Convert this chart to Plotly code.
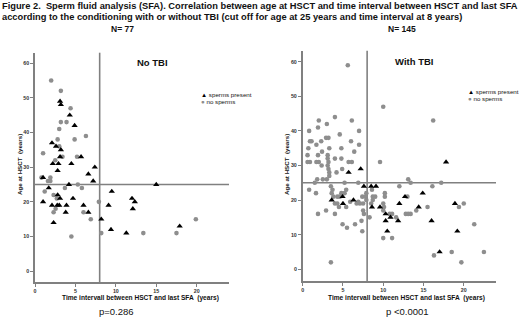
import plotly.graph_objects as go

W, H = 520, 317

# ---------------- data ----------------
# Left panel: No TBI  (x = time interval HSCT -> last SFA, y = age at HSCT)
noTBI_present_x = [3.1, 3.2, 4.3, 4.9, 2.1, 2.6, 3.2, 3.1, 5.7, 2.2, 2.9, 4.5, 7.4, 2.8, 6.6, 1.0, 7.2, 4.2,
                   1.7, 9.5, 2.8, 3.1, 4.7, 1.0, 2.1, 2.75, 3.0, 3.9, 6.0, 9.1, 3.8, 6.6, 2.3, 8.2, 9.4, 11.3,
                   12.0, 12.35, 12.1, 15.0, 17.9]
noTBI_present_y = [49, 48, 45, 42, 37, 36, 35, 33, 33, 31, 31, 31, 30, 29, 28, 27, 26, 25,
                   24, 23, 22, 21, 21, 20, 19, 19, 19, 19, 19, 19, 17, 17, 14, 15, 12, 11,
                   21, 20, 18, 25, 13]
noTBI_none_x = [2.0, 3.2, 4.4, 3.2, 3.9, 3.0, 6.3, 2.8, 4.9, 3.0, 1.0, 3.4, 5.2, 2.5, 0.8, 1.9, 1.6, 1.9,
                5.3, 1.2, 3.7, 5.8, 2.3, 2.7, 7.9, 2.55, 2.3, 6.0, 6.9, 8.2, 4.5, 13.4, 17.5, 19.9]
noTBI_none_y = [55, 52, 47, 43, 43, 41, 39, 38, 38, 36, 34, 33, 33, 32, 27, 27, 26, 26,
                25, 23, 24, 24, 22, 21, 20, 18, 17, 17, 15, 11, 10, 11, 11, 15]

# Right panel: With TBI
TBI_present_x = [5.7, 7.2, 3.6, 4.95, 5.0, 6.3, 7.6, 8.5, 9.1, 8.6, 9.6, 17.8, 12.7, 14.9, 12.0, 14.4,
                 18.9, 10.3, 10.9, 10.3, 11.85, 16.0, 10.5, 19.2, 17.0]
TBI_present_y = [28, 29, 20, 21, 19, 20, 24, 24, 24, 18, 18, 31, 21, 22, 19, 18,
                 19, 16, 15, 14, 14, 14, 11, 11, 5]
TBI_none_x = [5.6, 2.0, 4.0, 6.1, 3.0, 1.9, 0.8, 7.0, 4.6, 2.9, 3.2, 0.9, 1.1, 2.3, 6.0, 1.7, 7.0, 0.7,
              3.3, 4.8, 2.4, 6.4, 0.6, 1.9, 3.1, 3.1, 4.0, 4.8, 0.6, 0.9, 1.7, 2.0, 3.2, 5.7, 6.1, 2.35,
              3.1, 3.2, 4.9, 3.3, 4.2, 3.3, 1.8, 2.5, 3.0, 1.5, 5.2, 6.9, 0.8, 1.65, 3.5, 3.7, 5.4, 3.6,
              4.8, 5.2, 3.8, 4.3, 4.6, 5.9, 6.9, 4.0, 4.3, 4.5, 5.4, 6.7, 7.1, 7.5, 7.4, 7.8, 7.5, 4.0,
              2.9, 1.9, 4.95, 5.5, 6.5, 7.3, 7.4, 3.5,
              10.0, 16.2, 9.6, 13.1, 13.4, 17.2, 12.0, 16.1, 10.2, 10.2, 13.0, 10.1, 10.0, 15.5, 19.4,
              20.0, 10.8, 11.1, 12.8, 13.1, 13.4, 14.1, 11.6, 21.3, 10.0, 11.1, 18.5, 22.5, 16.3, 19.7,
              7.9, 8.6, 8.7, 8.5, 7.6, 8.3, 9.0, 10.0, 7.9, 8.7]
TBI_none_y = [59, 43, 44, 43, 42, 41, 40, 40, 39, 38, 38, 37, 37, 37, 37, 36, 36, 35,
              35, 35, 34, 34, 33, 33, 33, 32, 32, 32, 31, 31, 31, 31, 31, 31, 31, 30,
              30, 29, 29, 28, 28, 27, 26, 26, 26, 25, 25, 25, 23, 22, 24, 23, 23, 22,
              22, 22, 21, 21, 21, 19.5, 19.5, 19, 19, 18, 18, 19, 19, 19, 21, 21, 17, 16,
              17, 16, 13, 12, 13, 14, 11, 2,
              47, 43, 31, 26, 25, 25, 24, 24, 22, 21, 21, 18, 17, 18, 18,
              19, 16, 16, 16, 16, 16, 17, 15, 13, 9, 9, 5, 5, 4, 2,
              22, 23, 21, 19, 16, 15, 21, 19, 20, 20]

x_ticks = [0, 5, 10, 15, 20]
y_ticks = [0, 10, 20, 30, 40, 50, 60]
cut_interval = 8   # years
cut_age = 25       # years

# ---------------- style ----------------
FONT = "Liberation Sans, Arial, sans-serif"
AX = "#808080"
GREY_PT = "#8e8e8e"

fig = go.Figure()

def add_panel(xa, ya, px, py, nx, ny):
    fig.add_trace(go.Scatter(x=nx, y=ny, mode="markers", xaxis=xa, yaxis=ya, showlegend=False,
                             marker=dict(symbol="circle", size=4.6, color=GREY_PT, line=dict(width=0))))
    fig.add_trace(go.Scatter(x=px, y=py, mode="markers", xaxis=xa, yaxis=ya, showlegend=False,
                             marker=dict(symbol="triangle-up", size=5.5, color="black", line=dict(width=0))))

add_panel("x", "y", noTBI_present_x, noTBI_present_y, noTBI_none_x, noTBI_none_y)
add_panel("x2", "y2", TBI_present_x, TBI_present_y, TBI_none_x, TBI_none_y)

axis_common = dict(showgrid=False, zeroline=False, showline=True, linecolor=AX, linewidth=1.6,
                   ticks="outside", ticklen=3, tickwidth=1, tickcolor=AX,
                   tickfont=dict(family=FONT, size=5.3, color="#333333", weight="bold"))

fig.update_layout(
    width=W, height=H,
    margin=dict(l=0, r=0, t=0, b=0),
    paper_bgcolor="white", plot_bgcolor="white",
    showlegend=False,
    xaxis=dict(domain=[35 / W, 229 / W], range=[0, 24], tickvals=x_ticks, anchor="y", **axis_common),
    yaxis=dict(domain=[35 / H, 264.3 / H], range=[-3.1, 63], tickvals=y_ticks, anchor="x", **axis_common),
    xaxis2=dict(domain=[302.7 / W, 496 / W], range=[0, 24], tickvals=x_ticks, anchor="y2", **axis_common),
    yaxis2=dict(domain=[36 / H, 266.3 / H], range=[-3.4, 63.2], tickvals=y_ticks, anchor="x2", **axis_common),
)

# cut-off reference lines (drawn beneath the markers)
for xa, ya in [("x", "y"), ("x2", "y2")]:
    fig.add_shape(type="line", xref=xa, yref=ya + " domain", x0=cut_interval, x1=cut_interval, y0=0, y1=1,
                  line=dict(color=AX, width=1.6), layer="below")
    fig.add_shape(type="line", xref=xa + " domain", yref=ya, x0=0, x1=1, y0=cut_age, y1=cut_age,
                  line=dict(color=AX, width=1.6), layer="below")

def ann(text, x, y, size, bold=False, xanchor="center", angle=0, color="#111111"):
    t = f"<b>{text}</b>" if bold else text
    fig.add_annotation(text=t, x=x / W, y=1 - y / H, xref="paper", yref="paper", showarrow=False,
                       xanchor=xanchor, yanchor="middle", textangle=angle,
                       font=dict(family=FONT, size=size, color=color))

# header
ann("Figure 2.  Sperm fluid analysis (SFA). Correlation between age at HSCT and time interval between HSCT and last SFA",
    0, 5.5, 9.3, bold=True, xanchor="left")
ann("according to the conditioning with or without TBI (cut off for age at 25 years and time interval at 8 years)",
    0, 16.5, 9.3, bold=True, xanchor="left")

# panel headers
ann("N= 77", 122, 29, 8.5, bold=True)
ann("N= 145", 402, 29, 8.5, bold=True)
ann("No TBI", 152, 63, 9.5, bold=True)
ann("With TBI", 414, 61, 9.5, bold=True)

# axis titles
ann("Age at HSCT  (years)", 19, 165, 6.2, bold=True, angle=-90)
ann("Age at HSCT  (years)", 286, 165, 6.2, bold=True, angle=-90)
ann("Time intervall between HSCT and last SFA  (years)", 140, 298, 6.6, bold=True)
ann("Time intervall between HSCT and last SFA  (years)", 406, 298, 6.6, bold=True)

# p-values
ann("p=0.286", 116, 311.5, 9.5)
ann("p <0.0001", 407, 311.5, 9.5)

# legends (text)
tri = "<span style='color:black'>▲</span>"
dot = f"<span style='color:{GREY_PT}'>●</span>"
ann(f"{tri} sperms present", 199, 94.5, 6.2, xanchor="left")
ann(f"{dot} no sperms", 199, 101.5, 6.2, xanchor="left")
ann(f"{tri} sperms present", 466, 91.5, 6.2, xanchor="left")
ann(f"{dot} no sperms", 466, 98.5, 6.2, xanchor="left")

fig.write_html("out.html", config={"displayModeBar": False},
               post_script="document.body.style.margin='0';document.body.style.overflow='hidden';")
